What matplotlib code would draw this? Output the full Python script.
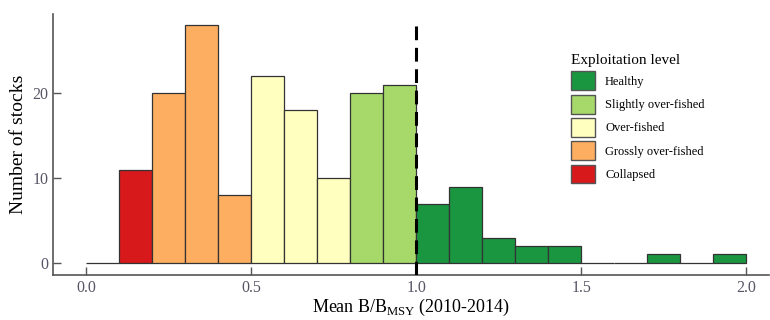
import numpy as np
import matplotlib.pyplot as plt
from matplotlib.patches import Patch

plt.rcParams['font.family'] = ['Liberation Serif', 'DejaVu Serif']
plt.rcParams['mathtext.fontset'] = 'custom'
plt.rcParams['mathtext.rm'] = 'Liberation Serif'

# histogram bins (left edges) and counts
bin_left = np.round(np.arange(0.0, 2.0, 0.1), 1)
counts = [0, 11, 20, 28, 8, 22, 18, 10, 20, 21, 7, 9, 3, 2, 2, 0, 0, 1, 0, 1]
levels = [None, 'Collapsed', 'Grossly over-fished', 'Grossly over-fished', 'Grossly over-fished',
          'Over-fished', 'Over-fished', 'Over-fished', 'Slightly over-fished', 'Slightly over-fished',
          'Healthy', 'Healthy', 'Healthy', 'Healthy', 'Healthy',
          'Healthy', 'Healthy', 'Healthy', 'Healthy', 'Healthy']

legend_order = ['Healthy', 'Slightly over-fished', 'Over-fished', 'Grossly over-fished', 'Collapsed']
colors = {'Healthy': '#1a9641', 'Slightly over-fished': '#a6d96a', 'Over-fished': '#ffffbf',
          'Grossly over-fished': '#fdae61', 'Collapsed': '#d7191c', None: 'white'}

fig = plt.figure(figsize=(7.7, 3.2), dpi=100)
ax = fig.add_axes([0.069, 0.141, 0.93, 0.815])

bar_cols = [colors[l] for l in levels]
ax.bar(bin_left, counts, width=0.1, align='edge', color=bar_cols,
       edgecolor='#333333', linewidth=0.9, zorder=2)
ax.plot([1.0, 1.0], [-1.4, 28.6], ls=(0, (4.5, 2.5)), color='black', lw=2.2, zorder=3)

ax.set_xlim(-0.1, 2.07)
ax.set_ylim(-1.4, 29.3)
ax.set_xticks([0.0, 0.5, 1.0, 1.5, 2.0])
ax.set_xticklabels(['0.0', '0.5', '1.0', '1.5', '2.0'])
ax.set_yticks([0, 10, 20])

for s in ['top', 'right']:
    ax.spines[s].set_visible(False)
for s in ['left', 'bottom']:
    ax.spines[s].set_color('#555555')
    ax.spines[s].set_linewidth(1.2)
ax.tick_params(direction='in', length=6, width=1, color='#555555',
               labelcolor='#555566', labelsize=11.5)

ax.set_ylabel('Number of stocks', fontsize=14, labelpad=4)
ax.set_xlabel('Mean B/B$_{\\mathrm{MSY}}$ (2010-2014)', fontsize=13, labelpad=1)

handles = [Patch(facecolor=colors[l], edgecolor='#555555', label=l) for l in legend_order]
leg = ax.legend(handles=handles, title='Exploitation level', loc='upper left',
                bbox_to_anchor=(0.708, 0.89), frameon=False, fontsize=9,
                title_fontsize=11, handlelength=1.9, handleheight=1.95,
                labelspacing=0.35, handletextpad=0.8, alignment='left')

fig.savefig('out.png', dpi=100)
